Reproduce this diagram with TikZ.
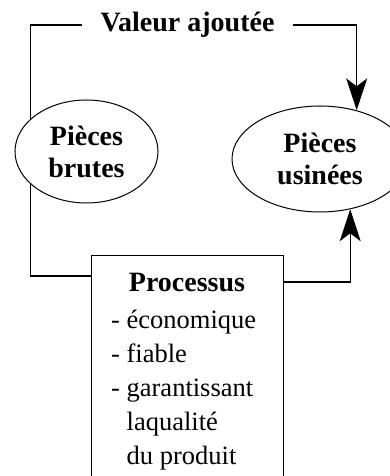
\documentclass[tikz,border=0pt]{standalone}
\usepackage{fontspec}
\setmainfont{Liberation Serif}
\usetikzlibrary{arrows.meta,positioning,shapes.geometric}

\tikzset{
    piece/.style={draw, ellipse, line width=1pt, inner sep=0pt, align=center,
        font=\fontsize{28}{32}\selectfont\bfseries},
    link/.style={draw, line width=1.2pt},
    flow/.style={link, -{Stealth[length=32pt, width=21pt, inset=8pt]}},
}

\begin{document}
\begin{tikzpicture}[x=1pt, y=1pt]
        \useasboundingbox (0,0) rectangle (389,476);

        % Ellipses
        \node[piece, minimum width=143pt, minimum height=103pt] (brutes) at (86.5,324.5) {Pièces\\brutes};
        \node[piece, minimum width=176pt, minimum height=106pt] (usinees) at (320,317) {Pièces\\usinées};

        % Label on top
        \node[font=\fontsize{28}{32}\selectfont\bfseries, inner xsep=18pt] (valeur) at (187.5,451) {Valeur ajoutée};

        % Process box
        \node[draw, line width=1.2pt, minimum width=192pt, minimum height=260pt, anchor=north west] (proc) at (91,221) {};
        \node[font=\fontsize{28}{32}\selectfont\bfseries, anchor=base] (proctitle) at (187,184) {Processus};
        \node[font=\fontsize{26.5}{34}\selectfont, align=left, inner sep=0pt, anchor=base west] (proclist) at (111,11)
            {- économique\\- fiable\\- garantissant\\\hspace*{15.5pt}laqualité\\\hspace*{15.5pt}du produit};

        % Connectors
        \coordinate (procin) at ([yshift=-21pt]proc.north west);
        \coordinate (procout) at ([yshift=-27pt]proc.north east);
        \draw[link] (brutes.150) |- (valeur.west);
        \draw[flow] (valeur.east) -| (usinees.53);
        \draw[link] (brutes.210) |- (procin);
        \draw[flow] (procout) -| (usinees.301);
    \end{tikzpicture}
\end{document}
